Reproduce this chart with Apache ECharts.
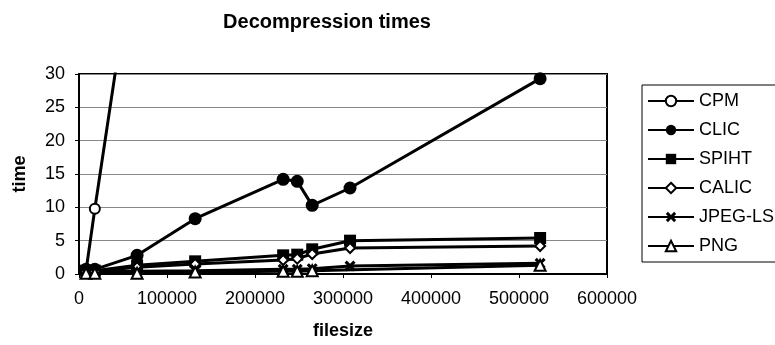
<!DOCTYPE html>
<html>
<head>
<meta charset="utf-8">
<script src="https://cdn.jsdelivr.net/npm/echarts@6/dist/echarts.min.js"></script>
<style>
  html, body { margin: 0; padding: 0; background: #fff; }
  #chart { width: 775px; height: 345px; }
</style>
</head>
<body>
<div id="chart"></div>
<script>
// file sizes shared by the series
const fileSizes = [8000, 18000, 66000, 132000, 232000, 248000, 265000, 308000, 524000];

const cpm = [[8000, 0.5], [18000, 9.8], [66000, 52]];
const clic = [0.7, 0.7, 2.8, 8.3, 14.2, 13.9, 10.3, 12.9, 29.3];
const spiht = [0.5, 0.5, 1.3, 1.9, 2.8, 2.9, 3.7, 5.0, 5.4];
const calic = [0.4, 0.4, 1.0, 1.5, 2.1, 2.3, 3.0, 3.9, 4.2];
const jpegls = [0.3, 0.3, 0.4, 0.5, 0.7, 0.7, 0.8, 1.2, 1.6];
const png = [0.1, 0.1, 0.1, 0.3, 0.4, 0.4, 0.5, null, 1.3];

const xTicks = [0, 100000, 200000, 300000, 400000, 500000, 600000];
const yTicks = [0, 5, 10, 15, 20, 25, 30];

const font = 'Liberation Sans, Arial, sans-serif';
const crossPath = 'path://M0,2 L2,0 L5,3 L8,0 L10,2 L7,5 L10,8 L8,10 L5,7 L2,10 L0,8 L3,5 Z';

function pair(vals) {
  return fileSizes.map((x, i) => [x, vals[i]]).filter(p => p[1] !== null);
}

function mkSeries(name, data, symbol, size, hollow) {
  return {
    name: name,
    type: 'line',
    data: data,
    symbol: symbol,
    symbolSize: size,
    showAllSymbol: true,
    clip: true,
    lineStyle: { color: '#000', width: 3 },
    itemStyle: hollow
      ? { color: '#fff', borderColor: '#000', borderWidth: 2 }
      : { color: '#000', borderColor: '#000', borderWidth: 0 },
    emphasis: { disabled: true }
  };
}

const chart = echarts.init(document.getElementById('chart'));
chart.setOption({
  animation: false,
  backgroundColor: '#fff',
  textStyle: { fontFamily: font },
  title: {
    text: 'Decompression times',
    left: 322,
    textAlign: 'center',
    top: 7,
    textStyle: { fontSize: 20, fontWeight: 'bold', color: '#000', fontFamily: font }
  },
  legend: {
    orient: 'vertical',
    left: 642,
    top: 85,
    padding: [7, 40, 7, 5],
    itemWidth: 46,
    itemHeight: 13,
    itemGap: 11,
    borderColor: '#000',
    borderWidth: 1,
    textStyle: { fontSize: 18, color: '#000', fontFamily: font },
    data: ['CPM', 'CLIC', 'SPIHT', 'CALIC', 'JPEG-LS', 'PNG']
  },
  grid: {
    left: 79, right: 168, top: 74, bottom: 69,
    show: true, borderColor: '#000', borderWidth: 2
  },
  xAxis: {
    type: 'value',
    min: xTicks[0], max: xTicks[xTicks.length - 1], interval: 100000,
    name: 'filesize',
    nameLocation: 'middle',
    nameGap: 48,
    nameTextStyle: { fontSize: 18, fontWeight: 'bold', color: '#000' },
    axisLine: { show: true, onZero: false, lineStyle: { color: '#000', width: 2 } },
    axisTick: { show: true, length: 4, lineStyle: { color: '#000' } },
    axisLabel: { fontSize: 18, color: '#000', margin: 16, formatter: v => String(v) },
    splitLine: { show: false }
  },
  yAxis: {
    type: 'value',
    min: yTicks[0], max: yTicks[yTicks.length - 1], interval: 5,
    name: 'time',
    nameLocation: 'middle',
    nameGap: 50,
    nameRotate: 90,
    nameTextStyle: { fontSize: 18, fontWeight: 'bold', color: '#000' },
    axisLine: { show: true, lineStyle: { color: '#000', width: 2 } },
    axisTick: { show: true, length: 4, lineStyle: { color: '#000' } },
    axisLabel: { fontSize: 18, color: '#000', margin: 14 },
    splitLine: { show: true, lineStyle: { color: '#888', width: 1 } }
  },
  series: [
    mkSeries('CPM', cpm, 'circle', 10, true),
    mkSeries('CLIC', pair(clic), 'circle', 13, false),
    mkSeries('SPIHT', pair(spiht), 'rect', 12, false),
    mkSeries('CALIC', pair(calic), 'diamond', 10, true),
    mkSeries('JPEG-LS', pair(jpegls), crossPath, 11, false),
    mkSeries('PNG', pair(png), 'triangle', 11, true)
  ]
});
</script>
</body>
</html>
